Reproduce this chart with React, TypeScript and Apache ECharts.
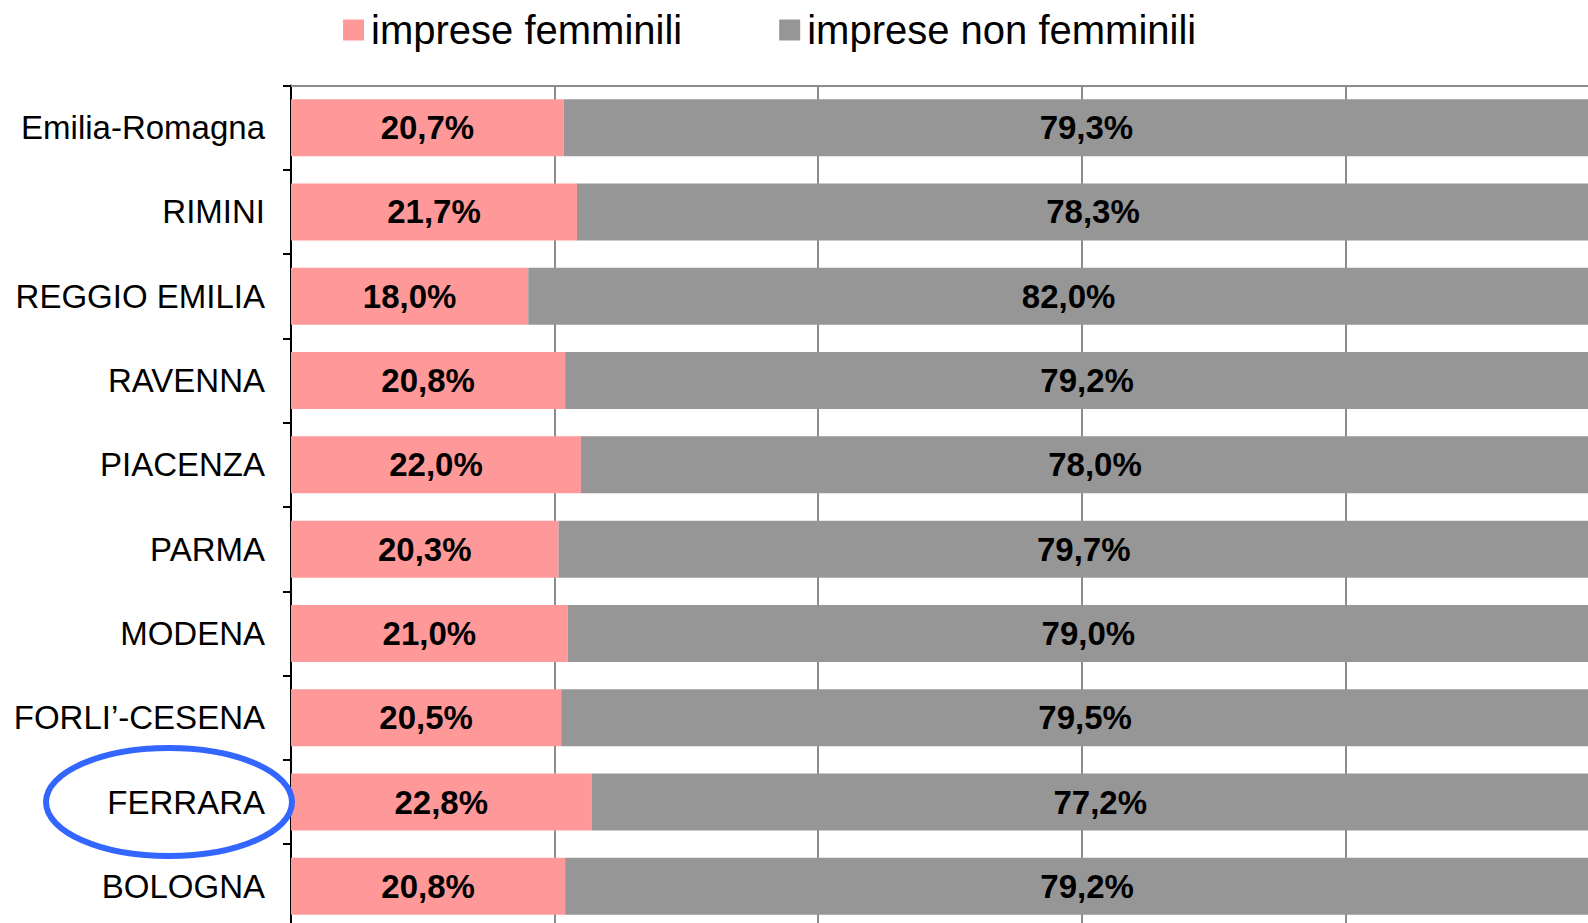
import React, { useEffect, useRef } from "react";
import * as echarts from "echarts";

const categories = [
  "Emilia-Romagna",
  "RIMINI",
  "REGGIO EMILIA",
  "RAVENNA",
  "PIACENZA",
  "PARMA",
  "MODENA",
  "FORLI’-CESENA",
  "FERRARA",
  "BOLOGNA",
];
const femminili = [20.7, 21.7, 18.0, 20.8, 22.0, 20.3, 21.0, 20.5, 22.8, 20.8];
const nonFemminili = [79.3, 78.3, 82.0, 79.2, 78.0, 79.7, 79.0, 79.5, 77.2, 79.2];
const seriesNames = ["imprese femminili", "imprese non femminili"];
const highlighted = "FERRARA";

const fmt = (v: number) => v.toFixed(1).replace(".", ",") + "%";

export default function App() {
  const ref = useRef<HTMLDivElement>(null);
  useEffect(() => {
    if (!ref.current) return;
    const chart = echarts.init(ref.current, undefined, { renderer: "svg" });
    const gridLeft = 291;
    const labelStyle = {
      show: true,
      position: "inside" as const,
      color: "#000",
      fontWeight: "bold" as const,
      fontSize: 33,
      fontFamily: "Liberation Sans",
      formatter: (p: any) => fmt(p.value),
    };
    chart.setOption({
      animation: false,
      textStyle: { fontFamily: "Liberation Sans" },
      legend: {
        left: 338,
        top: 5,
        itemWidth: 21,
        itemHeight: 21,
        itemGap: 97,
        icon: "rect",
        textStyle: { fontSize: 40, color: "#000", padding: [0, 0, 0, 2], lineHeight: 40 },
        data: seriesNames,
      },
      grid: { left: gridLeft, top: 85.5, width: 1318, height: 843, containLabel: false },
      xAxis: {
        type: "value",
        position: "top",
        min: 0,
        max: 100,
        interval: 20,
        axisLine: { show: true, lineStyle: { color: "#8c8c8c", width: 2 } },
        axisTick: { show: false },
        axisLabel: { show: false },
        splitLine: { show: true, lineStyle: { color: "#8c8c8c", width: 2 } },
      },
      yAxis: {
        type: "category",
        inverse: true,
        data: categories,
        axisLine: { show: true, lineStyle: { color: "#000", width: 2 } },
        axisTick: { show: true, length: 8, lineStyle: { color: "#000", width: 2 } },
        axisLabel: { fontSize: 33, color: "#000", margin: 26, fontFamily: "Liberation Sans" },
      },
      series: [
        {
          name: seriesNames[0],
          type: "bar",
          stack: "tot",
          data: femminili,
          barWidth: 57,
          itemStyle: { color: "#ff9999" },
          label: labelStyle,
        },
        {
          name: seriesNames[1],
          type: "bar",
          stack: "tot",
          data: nonFemminili,
          barWidth: 57,
          itemStyle: { color: "#969696" },
          label: labelStyle,
        },
      ],
    });
    const cy = chart.convertToPixel({ yAxisIndex: 0 }, highlighted) as number;
    chart.setOption({
      graphic: [
        {
          type: "ellipse",
          shape: { cx: gridLeft - 122, cy: cy, rx: 123, ry: 54 },
          style: { fill: "none", stroke: "#3366ff", lineWidth: 6 },
          z: 100,
        },
      ],
    });
    return () => chart.dispose();
  }, []);
  return (
    <div
      style={{
        position: "fixed",
        left: 0,
        top: 0,
        width: 1588,
        height: 923,
        overflow: "hidden",
        background: "#fff",
      }}
    >
      <div ref={ref} style={{ width: 1640, height: 960 }} />
    </div>
  );
}
